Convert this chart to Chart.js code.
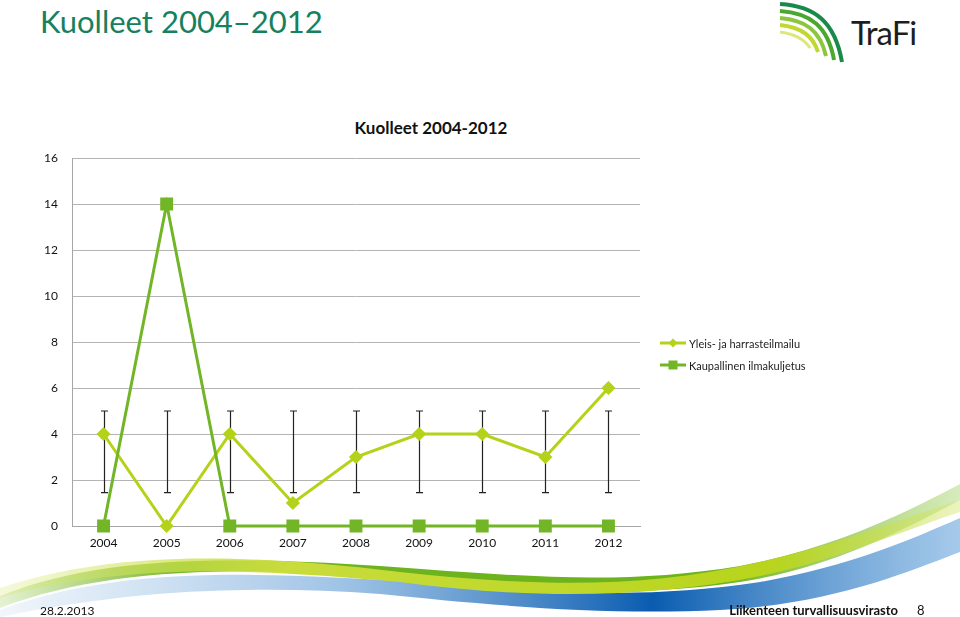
<!DOCTYPE html>
<html lang="fi">
<head>
    <meta charset="UTF-8">
    <title>Kuolleet 2004–2012</title>
    <script src="https://cdn.jsdelivr.net/npm/chart.js"></script>
    <style>
        body {
            margin: 0;
            padding: 0;
            background-color: #fff;
            font-family: Lato, "Open Sans", sans-serif;
        }
        .slide {
            position: relative;
            width: 960px;
            height: 617px;
            overflow: hidden;
        }
        .slide-title {
            position: absolute;
            left: 40px;
            top: 2px;
            font-size: 31px;
            color: #17805c;
        }
        .chart-title {
            position: absolute;
            left: 231px;
            width: 400px;
            top: 117px;
            text-align: center;
            font-size: 17px;
            font-weight: bold;
            color: #111;
        }
        .logo-text {
            position: absolute;
            left: 851px;
            top: 12px;
            font-size: 33px;
            color: #1e1e1e;
            letter-spacing: -1px;
        }
        #waves, #logo {
            position: absolute;
            left: 0;
            top: 0;
        }
        #chartWrap {
            position: absolute;
            left: 0;
            top: 0;
            width: 960px;
            height: 617px;
        }
        .legend {
            position: absolute;
            left: 660px;
            top: 332px;
            font-size: 11px;
            color: #222;
        }
        .legend-item {
            display: flex;
            align-items: center;
            height: 22px;
        }
        .legend-item canvas {
            margin-right: 3px;
        }
        .footer-date {
            position: absolute;
            left: 40px;
            top: 603px;
            font-size: 12px;
            color: #111;
        }
        .footer-org {
            position: absolute;
            right: 62px;
            top: 602px;
            font-size: 13px;
            font-weight: bold;
            color: #111;
        }
        .footer-page {
            position: absolute;
            left: 917px;
            top: 602px;
            font-size: 13px;
            color: #111;
        }
    </style>
</head>
<body>
<div class="slide">
    <!-- taustan kaaret -->
    <svg id="waves" width="960" height="617">
        <defs>
            <linearGradient id="gBlue" x1="0" y1="0" x2="1" y2="0">
                <stop offset="0" stop-color="#9cc3e6" stop-opacity="0.15"/>
                <stop offset="0.35" stop-color="#8ab6e0" stop-opacity="0.8"/>
                <stop offset="0.68" stop-color="#0a5cb0"/>
                <stop offset="1" stop-color="#6aa6dc" stop-opacity="0.6"/>
            </linearGradient>
            <linearGradient id="gGreen" x1="0" y1="0" x2="1" y2="0">
                <stop offset="0" stop-color="#7dbb2a" stop-opacity="0.2"/>
                <stop offset="0.2" stop-color="#6db31e"/>
                <stop offset="0.75" stop-color="#6db31e"/>
                <stop offset="1" stop-color="#8cc63f" stop-opacity="0.35"/>
            </linearGradient>
            <linearGradient id="gYellow" x1="0" y1="0" x2="1" y2="0">
                <stop offset="0" stop-color="#d6e66a" stop-opacity="0.25"/>
                <stop offset="0.3" stop-color="#c8dc3c"/>
                <stop offset="0.8" stop-color="#b8d41c"/>
                <stop offset="1" stop-color="#d4e670" stop-opacity="0.45"/>
            </linearGradient>
        </defs>
        <path d="M0,610 C120,566 250,572 420,582 C560,592 640,600 760,582 C850,566 910,540 960,518 L960,552 C900,575 830,604 720,610 C600,616 480,604 380,594 C240,584 120,592 0,617 Z" fill="url(#gBlue)"/>
        <path d="M0,596 C100,556 220,556 380,566 C520,576 620,586 740,566 C830,549 900,516 960,484 L960,500 C900,532 830,568 740,582 C620,600 520,588 380,576 C220,566 100,570 0,608 Z" fill="url(#gGreen)"/>
        <path d="M0,588 C110,552 230,552 400,572 C530,586 640,590 760,562 C840,544 910,516 960,500 L960,512 C900,532 830,562 760,576 C640,600 520,598 400,582 C230,566 110,566 0,598 Z" fill="url(#gYellow)"/>
    </svg>

    <!-- TraFi-logo -->
    <svg id="logo" width="960" height="70">
        <path d="M780,4 C815,6 835,22 842,62" stroke="#1a8a4a" stroke-width="4" fill="none"/>
        <path d="M780,11 C810,13 828,26 834,60" stroke="#4aa82e" stroke-width="4" fill="none"/>
        <path d="M780,18 C805,20 820,30 826,56" stroke="#8cc63f" stroke-width="4" fill="none"/>
        <path d="M780,25 C800,27 813,35 818,52" stroke="#c0d830" stroke-width="4" fill="none"/>
        <path d="M780,32 C795,34 805,40 810,48" stroke="#dfe67a" stroke-width="3" fill="none"/>
    </svg>
    <div class="logo-text">TraFi</div>

    <div class="slide-title">Kuolleet 2004–2012</div>
    <div class="chart-title">Kuolleet 2004-2012</div>

    <div id="chartWrap"><canvas id="chart" width="960" height="617"></canvas></div>

    <div class="legend">
        <div class="legend-item"><canvas id="lg0" width="26" height="12"></canvas>Yleis- ja harrasteilmailu</div>
        <div class="legend-item"><canvas id="lg1" width="26" height="12"></canvas>Kaupallinen ilmakuljetus</div>
    </div>

    <div class="footer-date">28.2.2013</div>
    <div class="footer-org">Liikenteen turvallisuusvirasto</div>
    <div class="footer-page">8</div>
</div>

<script>
    // Data
    const years = ['2004', '2005', '2006', '2007', '2008', '2009', '2010', '2011', '2012'];
    const seriesNames = ['Yleis- ja harrasteilmailu', 'Kaupallinen ilmakuljetus'];
    const yleisValues = [4, 0, 4, 1, 3, 4, 4, 3, 6];
    const kaupValues = [0, 14, 0, 0, 0, 0, 0, 0, 0];
    const errLow = [1.45, 1.45, 1.45, 1.45, 1.45, 1.45, 1.45, 1.45, 1.45];
    const errHigh = [5, 5, 5, 5, 5, 5, 5, 5, 5];
    const yTicks = [0, 2, 4, 6, 8, 10, 12, 14, 16];

    const colYleis = '#b5d21a';
    const colKaup = '#72b526';

    // virhepalkit (high-low viivat) piirretään asteikon kautta
    const errorBars = {
        id: 'errorBars',
        beforeDatasetsDraw(chart) {
            const ctx = chart.ctx;
            const x = chart.scales.x;
            const y = chart.scales.y;
            ctx.save();
            ctx.strokeStyle = '#222';
            ctx.lineWidth = 1.2;
            years.forEach((yr, i) => {
                const px = Math.round(x.getPixelForValue(i)) + 0.5;
                const top = y.getPixelForValue(errHigh[i]);
                const bot = y.getPixelForValue(errLow[i]);
                ctx.beginPath();
                ctx.moveTo(px, top);
                ctx.lineTo(px, bot);
                ctx.moveTo(px - 3.5, top);
                ctx.lineTo(px + 3.5, top);
                ctx.moveTo(px - 3.5, bot);
                ctx.lineTo(px + 3.5, bot);
                ctx.stroke();
            });
            ctx.restore();
        }
    };

    const ctx = document.getElementById('chart').getContext('2d');
    new Chart(ctx, {
        type: 'line',
        data: {
            labels: years,
            datasets: [{
                label: seriesNames[0],
                data: yleisValues,
                borderColor: colYleis,
                backgroundColor: colYleis,
                borderWidth: 3,
                pointStyle: 'rectRot',
                pointRadius: 5,
                pointHoverRadius: 5,
                clip: false,
                order: 2
            }, {
                label: seriesNames[1],
                data: kaupValues,
                borderColor: colKaup,
                backgroundColor: colKaup,
                borderWidth: 3,
                pointStyle: 'rect',
                pointRadius: 7,
                pointHoverRadius: 7,
                clip: false,
                order: 1
            }]
        },
        options: {
            responsive: false,
            animation: false,
            layout: {
                padding: { left: 0, right: 320, top: 158, bottom: 0 }
            },
            plugins: {
                legend: { display: false },
                title: { display: false },
                tooltip: { enabled: false }
            },
            scales: {
                x: {
                    offset: true,
                    grid: { display: false, drawTicks: false },
                    border: { color: '#a6a6a6', width: 1 },
                    ticks: {
                        padding: 10,
                        color: '#111',
                        font: { family: 'Lato', size: 12 }
                    },
                    afterFit(scale) { scale.height = 91; }
                },
                y: {
                    min: 0,
                    max: 16,
                    afterBuildTicks(scale) {
                        scale.ticks = yTicks.map(v => ({ value: v }));
                    },
                    grid: { color: '#b4b4b4', drawTicks: false },
                    border: { color: '#a6a6a6', width: 1 },
                    ticks: {
                        padding: 14,
                        color: '#111',
                        font: { family: 'Lato', size: 12 }
                    },
                    afterFit(scale) { scale.width = 72; }
                }
            }
        },
        plugins: [errorBars]
    });

    // selitteen pikkukuvat
    function drawLegendIcon(id, color, style) {
        const c = document.getElementById(id).getContext('2d');
        c.strokeStyle = color;
        c.fillStyle = color;
        c.lineWidth = 3;
        c.beginPath();
        c.moveTo(0, 6);
        c.lineTo(26, 6);
        c.stroke();
        c.beginPath();
        if (style === 'diamond') {
            c.moveTo(13, 1.5);
            c.lineTo(17.5, 6);
            c.lineTo(13, 10.5);
            c.lineTo(8.5, 6);
        } else {
            c.rect(8.5, 1.5, 9, 9);
        }
        c.fill();
    }
    drawLegendIcon('lg0', colYleis, 'diamond');
    drawLegendIcon('lg1', colKaup, 'square');
</script>
</body>
</html>
